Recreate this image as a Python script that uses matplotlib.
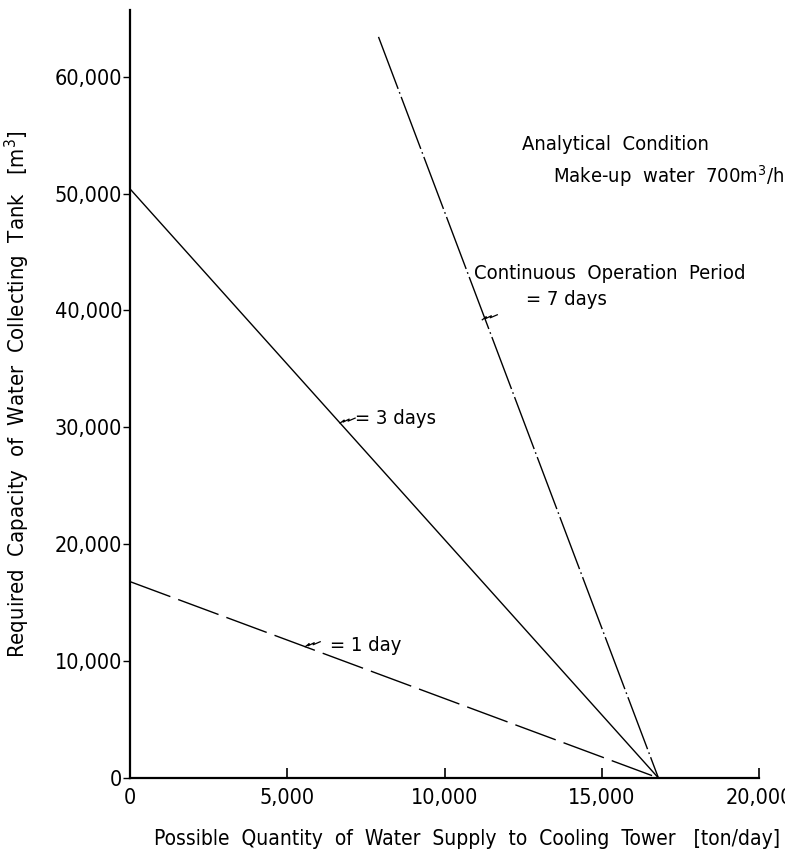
import matplotlib
matplotlib.use("Agg")
import matplotlib.pyplot as plt

plt.rcParams['font.family'] = ['DejaVu Sans']
plt.rcParams['font.stretch'] = 'condensed'

# Required tank capacity vs. water supply, for each continuous operation period
supply_1day = [0, 16800]
capacity_1day = [16800, 0]
supply_3day = [0, 16800]
capacity_3day = [50400, 0]
supply_7day = [7900, 16800]
capacity_7day = [63400, 0]

x_ticks = [0, 5000, 10000, 15000, 20000]
x_tick_labels = ["0", "5,000", "10,000", "15,000", "20,000"]
y_ticks = [0, 10000, 20000, 30000, 40000, 50000, 60000]
y_tick_labels = ["0", "10,000", "20,000", "30,000", "40,000", "50,000", "60,000"]

fig = plt.figure(figsize=(7.85, 8.63), dpi=100)
ax = fig.add_axes([0.1656, 0.0985, 0.8014, 0.8899])

ax.plot(supply_1day, capacity_1day, color="black", lw=1.0, dashes=(31, 6))
ax.plot(supply_3day, capacity_3day, color="black", lw=1.0)
ax.plot(supply_7day, capacity_7day, color="black", lw=1.0,
        dashes=(40, 2.5, 1.2, 2.5))

ax.set_xlim(0, 20000)
ax.set_ylim(0, 65700)
ax.spines["top"].set_visible(False)
ax.spines["right"].set_visible(False)
ax.spines["left"].set_linewidth(1.6)
ax.spines["bottom"].set_linewidth(1.6)

ax.set_xticks(x_ticks)
ax.set_xticklabels(x_tick_labels)
ax.set_yticks(y_ticks)
ax.set_yticklabels(y_tick_labels)
ax.tick_params(axis="x", direction="in", length=7, width=1.2, labelsize=15.5, pad=7)
ax.tick_params(axis="y", direction="out", length=5, width=1.0, labelsize=15.5, pad=0.5)

ax.set_xlabel("Possible  Quantity  of  Water  Supply  to  Cooling  Tower   [ton/day]",
              fontsize=15)
ax.set_ylabel("Required  Capacity  of  Water  Collecting  Tank   [m$^3$]",
              fontsize=15.8)
ax.xaxis.set_label_coords(0.536, -0.066)
ax.yaxis.set_label_coords(-0.156, 0.5)


def squiggle(x, y):
    # small zigzag leader from a line to its label
    px, py = ax.transData.transform((x, y))
    offs_x = [0, 4, 3, 9, 8, 15]
    offs_y = [0, 3, 1, 4, 2, 5]
    inv = ax.transData.inverted()
    xs, ys = [], []
    for dx, dy in zip(offs_x, offs_y):
        dxy = inv.transform((px + dx, py + dy))
        xs.append(dxy[0])
        ys.append(dxy[1])
    ax.plot(xs, ys, color="black", lw=0.9)


fig.canvas.draw()
squiggle(5570, 11230)
ax.text(6350, 11350, "= 1 day", fontsize=14.5, va="center", ha="left")
squiggle(6680, 30360)
ax.text(7160, 30750, "= 3 days", fontsize=14.5, va="center", ha="left")
squiggle(11200, 39200)
ax.text(12600, 40900, "= 7 days", fontsize=14.5, va="center", ha="left")
ax.text(10950, 43200, "Continuous  Operation  Period", fontsize=14.5, va="center", ha="left")
ax.text(12450, 54200, "Analytical  Condition", fontsize=14.5, va="center", ha="left")
ax.text(13450, 51500, "Make-up  water  700m$^3$/h", fontsize=14.5, va="center", ha="left",
        clip_on=False)

fig.savefig("out.png", dpi=100)
